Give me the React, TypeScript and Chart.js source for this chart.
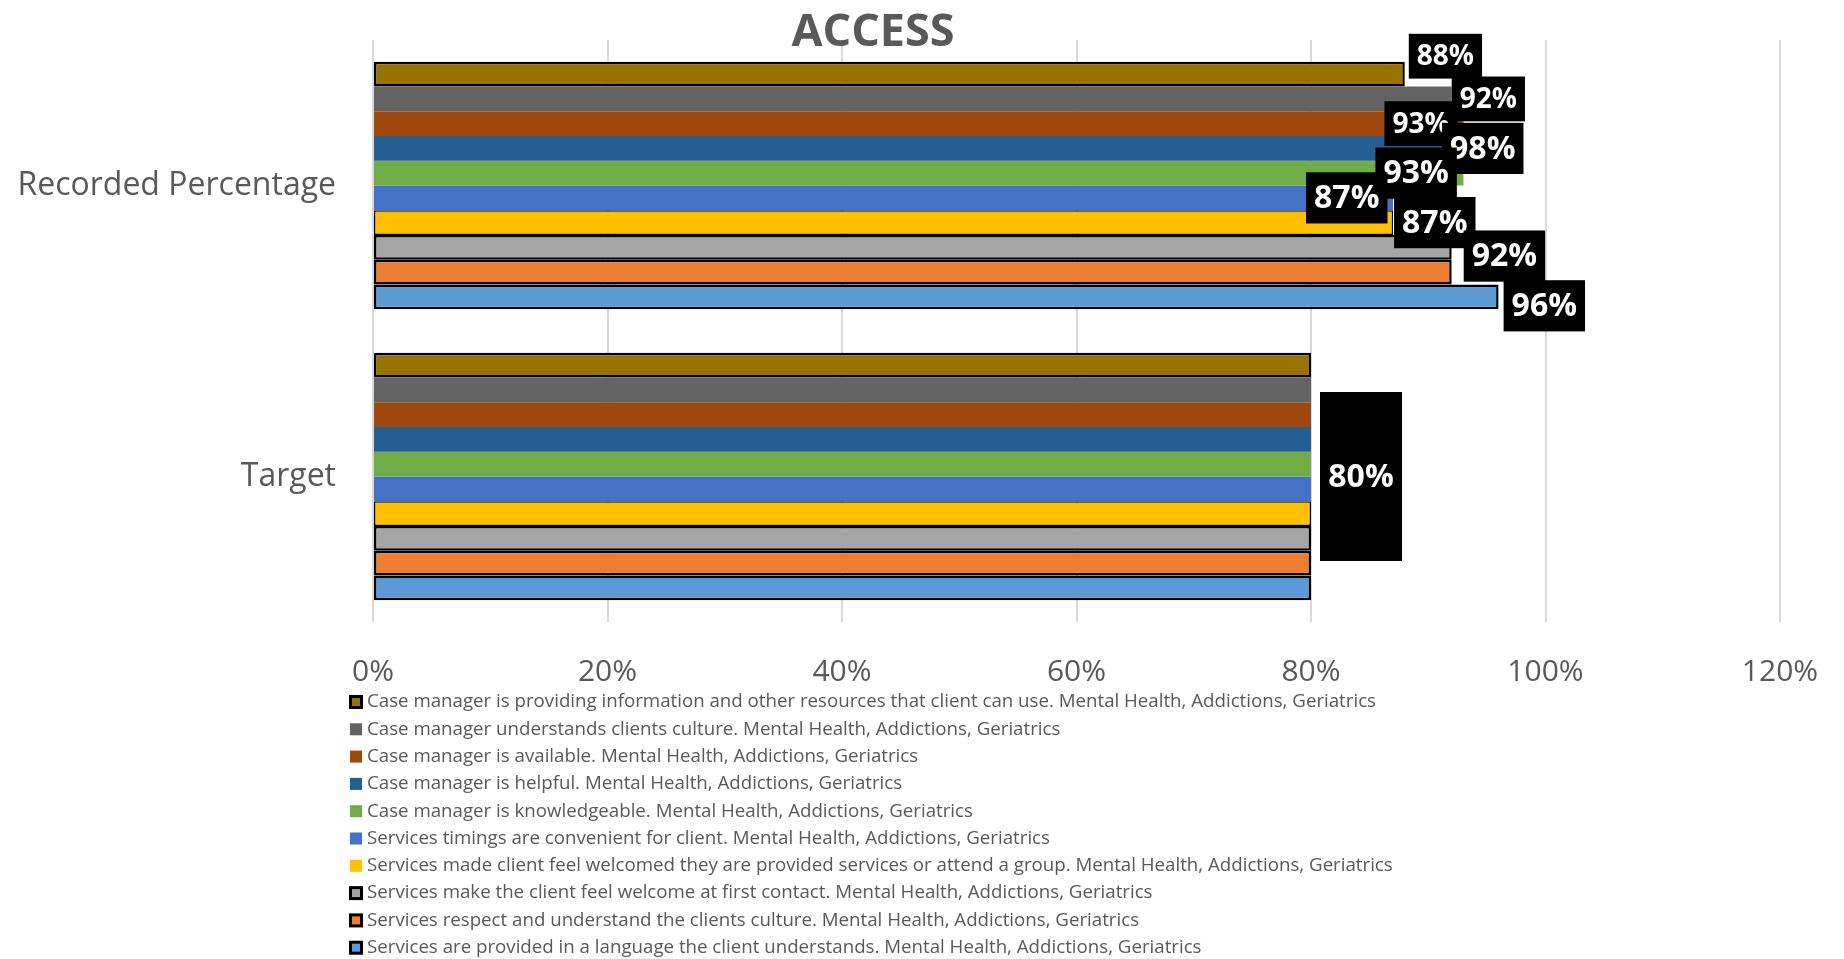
import React, { useEffect, useRef } from 'react';
import { Chart, registerables } from 'chart.js';

Chart.register(...registerables);

const chartTitle = 'ACCESS';
const categories = ['Recorded Percentage', 'Target'];
const seriesNames = [
  'Case manager is providing information and other resources that client can use. Mental Health, Addictions, Geriatrics',
  'Case manager understands clients culture. Mental Health, Addictions, Geriatrics',
  'Case manager is available. Mental Health, Addictions, Geriatrics',
  'Case manager is helpful. Mental Health, Addictions, Geriatrics',
  'Case manager is knowledgeable. Mental Health, Addictions, Geriatrics',
  'Services timings are convenient for client. Mental Health, Addictions, Geriatrics',
  'Services made client feel welcomed they are provided services or attend a group. Mental Health, Addictions, Geriatrics',
  'Services make the client feel welcome at first contact. Mental Health, Addictions, Geriatrics',
  'Services respect and understand the clients culture. Mental Health, Addictions, Geriatrics',
  'Services are provided in a language the client understands. Mental Health, Addictions, Geriatrics',
];
const recordedValues = [88, 92, 93, 98, 93, 87, 87, 92, 92, 96];
const targetValues = [80, 80, 80, 80, 80, 80, 80, 80, 80, 80];
const xTickValues = [0, 20, 40, 60, 80, 100, 120];

const seriesColors = [
  '#997300', '#636363', '#9E480E', '#255E91', '#70AD47',
  '#4472C4', '#FFC000', '#A5A5A5', '#ED7D31', '#5B9BD5',
];
const seriesBorderWidths = [2.5, 0, 0, 0, 0, 0, 1.5, 2.5, 2.5, 2.5];
const legendBoxBordered = [true, false, false, false, false, false, false, true, true, true];

// label placement (manual moves as in the reference), styles only
const recordedLabelStyle: ({ dx: number; dy: number; size: number } | null)[] = [
  { dx: 4, dy: -18, size: 28 },
  { dx: 0, dy: 0, size: 28 },
  { dx: -79, dy: 0, size: 28 },
  { dx: -80, dy: 0, size: 32 },
  { dx: -88, dy: 0, size: 32 },
  { dx: -87, dy: 0, size: 32 },
  { dx: 1, dy: 0, size: 32 },
  null,
  { dx: 12, dy: -16, size: 32 },
  { dx: 5, dy: 9, size: 32 },
];
const targetLabelStyle = { dx: 9, width: 82, height: 169, size: 32 };

const TEXT_GRAY = '#595959';
const FONT = "'Open Sans', 'DejaVu Sans', sans-serif";

const overlayPlugin = {
  id: 'overlay',
  afterDraw(chart: any) {
    const ctx: CanvasRenderingContext2D = chart.ctx;
    const xScale = chart.scales.x;
    const yScale = chart.scales.y;
    ctx.save();

    // title
    ctx.fillStyle = TEXT_GRAY;
    ctx.font = `bold 45px ${FONT}`;
    ctx.textAlign = 'center';
    ctx.textBaseline = 'alphabetic';
    ctx.fillText(chartTitle, 873, 46);

    const drawBox = (left: number, cy: number, w: number, h: number, text: string, size: number) => {
      ctx.fillStyle = '#000000';
      ctx.fillRect(left, cy - h / 2, w, h);
      ctx.fillStyle = '#FFFFFF';
      ctx.font = `bold ${size}px ${FONT}`;
      ctx.textAlign = 'center';
      ctx.textBaseline = 'middle';
      ctx.fillText(text, left + w / 2, cy + 1);
    };

    // data labels (recorded)
    chart.data.datasets.forEach((ds: any, i: number) => {
      const st = recordedLabelStyle[i];
      if (!st) return;
      const el = chart.getDatasetMeta(i).data[0];
      const text = `${ds.data[0]}%`;
      ctx.font = `bold ${st.size}px ${FONT}`;
      const tw = ctx.measureText(text).width;
      const w = tw + 16;
      const h = st.size * 1.6;
      drawBox(el.x + st.dx, el.y + st.dy, w, h, text, st.size);
    });

    // target label (single)
    const tv = chart.data.datasets[0].data[1];
    const tx = xScale.getPixelForValue(tv) + targetLabelStyle.dx;
    const ty = yScale.getPixelForValue(1);
    drawBox(tx, ty, targetLabelStyle.width, targetLabelStyle.height, `${tv}%`, targetLabelStyle.size);

    // legend
    const startY = 702;
    const step = 27.3;
    chart.data.datasets.forEach((ds: any, i: number) => {
      const cy = startY + i * step;
      const bx = 350;
      const bs = 12;
      if (legendBoxBordered[i]) {
        ctx.fillStyle = '#000000';
        ctx.fillRect(bx - 1, cy - bs / 2 - 1, bs + 2, bs + 2);
        ctx.fillStyle = ds.backgroundColor;
        ctx.fillRect(bx + 2, cy - bs / 2 + 2, bs - 4, bs - 4);
      } else {
        ctx.fillStyle = ds.backgroundColor;
        ctx.fillRect(bx, cy - bs / 2, bs, bs);
      }
      ctx.fillStyle = TEXT_GRAY;
      ctx.font = `18.7px ${FONT}`;
      ctx.textAlign = 'left';
      ctx.textBaseline = 'middle';
      ctx.fillText(ds.label, 367, cy);
    });

    ctx.restore();
  },
};

export default function App() {
  const canvasRef = useRef<HTMLCanvasElement | null>(null);

  useEffect(() => {
    document.body.style.margin = '0';
    const canvas = canvasRef.current;
    if (!canvas) return;
    const chart = new Chart(canvas, {
      type: 'bar',
      data: {
        labels: categories,
        datasets: seriesNames.map((name, i) => ({
          label: name,
          data: [recordedValues[i], targetValues[i]],
          backgroundColor: seriesColors[i],
          borderColor: '#000000',
          borderWidth: seriesBorderWidths[i],
          borderSkipped: false,
          categoryPercentage: 0.85,
          barPercentage: 1.0,
        })),
      },
      options: {
        indexAxis: 'y',
        responsive: false,
        animation: false,
        layout: { padding: { top: 40, right: 64, bottom: 273, left: 0 } },
        plugins: {
          legend: { display: false },
          title: { display: false },
          tooltip: { enabled: false },
        },
        scales: {
          x: {
            type: 'linear',
            min: 0,
            max: 120,
            afterBuildTicks: (scale: any) => {
              scale.ticks = xTickValues.map((v) => ({ value: v }));
            },
            afterFit: (scale: any) => {
              scale.height = 64;
              scale.paddingLeft = 0;
              scale.paddingRight = 0;
            },
            grid: { color: '#D9D9D9', lineWidth: 2, drawTicks: false },
            border: { display: false },
            ticks: {
              padding: 32,
              color: TEXT_GRAY,
              font: { family: FONT, size: 30 },
              callback: (v: any) => `${v}%`,
            },
          },
          y: {
            type: 'category',
            afterFit: (scale: any) => {
              scale.width = 373;
              scale.paddingTop = 0;
              scale.paddingBottom = 0;
            },
            grid: { display: false, drawTicks: false },
            border: { display: false },
            ticks: {
              padding: 37,
              color: TEXT_GRAY,
              font: { family: FONT, size: 32 },
            },
          },
        },
      },
      plugins: [overlayPlugin],
    });
    return () => chart.destroy();
  }, []);

  return (
    <div style={{ width: 1844, height: 959, background: '#FFFFFF' }}>
      <canvas ref={canvasRef} width={1844} height={959} style={{ display: 'block' }} />
    </div>
  );
}
